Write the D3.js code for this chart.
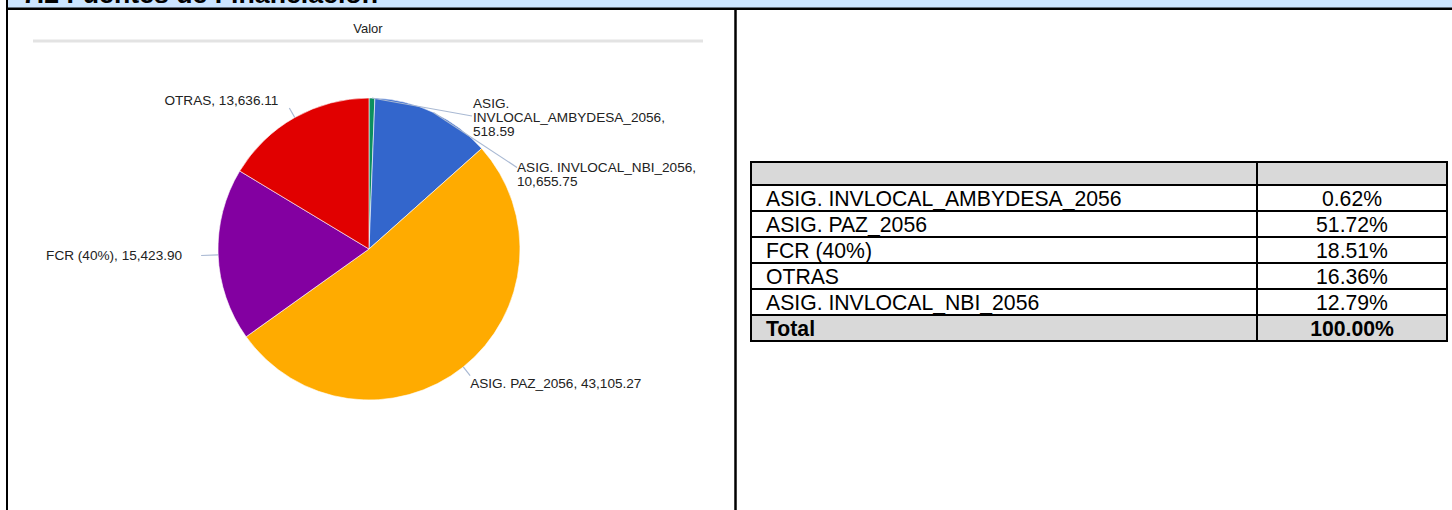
<!DOCTYPE html>
<html>
<head>
<meta charset="utf-8">
<script src="https://cdn.jsdelivr.net/npm/d3@7"></script>
<style>
  html, body { margin: 0; padding: 0; background: #fff; }
  svg { display: block; font-family: "Liberation Sans", Arial, sans-serif; }
</style>
</head>
<body>
<svg id="chart" width="1452" height="510"></svg>
<script>
// pie slices, in drawing order (clockwise from 12 o'clock)
const sliceNames = ["ASIG. INVLOCAL_AMBYDESA_2056", "ASIG. INVLOCAL_NBI_2056", "ASIG. PAZ_2056", "FCR (40%)", "OTRAS"];
const sliceValues = [518.59, 10655.75, 43105.27, 15423.90, 13636.11];
const sliceColors = ["#0c8f5e", "#3366cc", "#ffab00", "#8300a1", "#e10000"];

// table rows
const tableNames = ["ASIG. INVLOCAL_AMBYDESA_2056", "ASIG. PAZ_2056", "FCR (40%)", "OTRAS", "ASIG. INVLOCAL_NBI_2056"];
const tablePercents = [0.62, 51.72, 18.51, 16.36, 12.79];
const totalPercent = 100.00;

const title = "7.2 Fuentes de Financiación";
const chartTitle = "Valor";

// label layout (leader end radius / override, text offset, wrapping)
const labelLayout = {
  "ASIG. INVLOCAL_AMBYDESA_2056": { end: [472, 116], dx: 1, dy: -12.5, anchor: "start", lines: ["ASIG.", "INVLOCAL_AMBYDESA_2056,", "518.59"] },
  "ASIG. INVLOCAL_NBI_2056": { end: [517, 167.5], dx: 0, dy: 0, anchor: "start", lines: ["ASIG. INVLOCAL_NBI_2056,", "10,655.75"] },
  "ASIG. PAZ_2056": { r: 162, dx: 0, dy: 8, anchor: "start" },
  "FCR (40%)": { r: 168, dx: -19, dy: 0, anchor: "end" },
  "OTRAS": { r: 162, dx: -11, dy: -7.5, anchor: "end" }
};

(function() {
  const svg = d3.select("#chart");
  const fmt = d3.format(",.2f");

  // frame
  svg.append("rect").attr("x", 8).attr("y", 0).attr("width", 1444).attr("height", 8).attr("fill", "#cce5ff");
  svg.append("text").attr("x", 22).attr("y", 3)
    .attr("font-size", 26.7).attr("font-weight", "bold").attr("fill", "#000")
    .text(title);
  svg.append("line").attr("x1", 6).attr("x2", 1452).attr("y1", 8.75).attr("y2", 8.75)
    .attr("stroke", "#000").attr("stroke-width", 2.5);
  svg.append("line").attr("x1", 7).attr("x2", 7).attr("y1", 0).attr("y2", 510)
    .attr("stroke", "#000").attr("stroke-width", 2);
  svg.append("line").attr("x1", 735.5).attr("x2", 735.5).attr("y1", 8).attr("y2", 510)
    .attr("stroke", "#000").attr("stroke-width", 2.5);

  // chart title
  svg.append("text").attr("x", 368).attr("y", 28).attr("dy", "0.35em")
    .attr("text-anchor", "middle").attr("font-size", 13).attr("fill", "#222")
    .text(chartTitle);
  svg.append("line").attr("x1", 33).attr("x2", 703).attr("y1", 41).attr("y2", 41)
    .attr("stroke", "#e3e3e3").attr("stroke-width", 3);

  // pie
  const cx = 369, cy = 249, radius = 151;
  const data = sliceNames.map((n, i) => ({ name: n, value: sliceValues[i], color: sliceColors[i] }));
  const pie = d3.pie().sort(null).value(d => d.value);
  const arc = d3.arc().innerRadius(0).outerRadius(radius);
  const arcs = pie(data);

  const g = svg.append("g").attr("transform", `translate(${cx},${cy})`);
  g.selectAll("path.slice")
    .data(arcs)
    .enter()
      .append("path")
      .attr("class", "slice")
      .attr("d", arc)
      .attr("fill", d => d.data.color)
      .attr("stroke", "#fff")
      .attr("stroke-width", 0.6);

  // labels
  const labels = svg.append("g").attr("class", "labels");
  arcs.forEach(function(d) {
    const lay = labelLayout[d.data.name];
    const mid = (d.startAngle + d.endAngle) / 2;
    const sx = cx + radius * Math.sin(mid), sy = cy - radius * Math.cos(mid);
    let ex, ey;
    if (lay.end) {
      ex = lay.end[0]; ey = lay.end[1];
    } else {
      ex = cx + lay.r * Math.sin(mid); ey = cy - lay.r * Math.cos(mid);
    }
    labels.append("line")
      .attr("x1", sx).attr("y1", sy).attr("x2", ex).attr("y2", ey)
      .attr("stroke", "#a9b9d3").attr("stroke-width", 1.2);

    const lines = lay.lines || [d.data.name + ", " + fmt(d.data.value)];
    const t = labels.append("text")
      .attr("x", ex + lay.dx).attr("y", ey + lay.dy)
      .attr("text-anchor", lay.anchor)
      .attr("font-size", 13.6).attr("fill", "#222");
    lines.forEach(function(l, i) {
      t.append("tspan")
        .attr("x", ex + lay.dx)
        .attr("dy", i === 0 ? "0.35em" : 13.8)
        .text(l);
    });
  });

  // table
  const colX = [751, 1257, 1447];
  const top = 162, headH = 23, rowH = 26;
  const rows = tableNames.map((n, i) => ({ name: n, pct: tablePercents[i], bold: false, fill: "#fff" }));
  rows.push({ name: "Total", pct: totalPercent, bold: true, fill: "#d9d9d9" });

  const rowY = d3.scaleLinear().domain([0, rows.length]).range([top + headH, top + headH + rows.length * rowH]);
  const bottom = rowY(rows.length);
  const tbl = svg.append("g").attr("class", "table");

  tbl.append("rect").attr("x", colX[0]).attr("y", top).attr("width", colX[2] - colX[0]).attr("height", headH)
    .attr("fill", "#d9d9d9");
  tbl.selectAll("rect.row")
    .data(rows)
    .enter()
      .append("rect")
      .attr("class", "row")
      .attr("x", colX[0]).attr("y", (d, i) => rowY(i))
      .attr("width", colX[2] - colX[0]).attr("height", rowH)
      .attr("fill", d => d.fill);

  tbl.selectAll("text.name")
    .data(rows)
    .enter()
      .append("text")
      .attr("class", "name")
      .attr("x", colX[0] + 15).attr("y", (d, i) => rowY(i) + rowH / 2).attr("dy", "0.36em")
      .attr("font-size", 21.2).attr("font-weight", d => d.bold ? "bold" : "normal")
      .attr("fill", "#000")
      .text(d => d.name);
  tbl.selectAll("text.pct")
    .data(rows)
    .enter()
      .append("text")
      .attr("class", "pct")
      .attr("x", (colX[1] + colX[2]) / 2).attr("y", (d, i) => rowY(i) + rowH / 2).attr("dy", "0.36em")
      .attr("text-anchor", "middle")
      .attr("font-size", 21.2).attr("font-weight", d => d.bold ? "bold" : "normal")
      .attr("fill", "#000")
      .text(d => d3.format(".2f")(d.pct) + "%");

  // grid lines
  const hy = [top, top + headH].concat(rows.map((d, i) => rowY(i + 1)));
  tbl.selectAll("line.h")
    .data(hy)
    .enter()
      .append("line")
      .attr("class", "h")
      .attr("x1", colX[0] - 1).attr("x2", colX[2] + 1)
      .attr("y1", d => d).attr("y2", d => d)
      .attr("stroke", "#000").attr("stroke-width", 2);
  tbl.selectAll("line.v")
    .data(colX)
    .enter()
      .append("line")
      .attr("class", "v")
      .attr("x1", d => d).attr("x2", d => d)
      .attr("y1", top).attr("y2", bottom)
      .attr("stroke", "#000").attr("stroke-width", 2);
})();
</script>
</body>
</html>
